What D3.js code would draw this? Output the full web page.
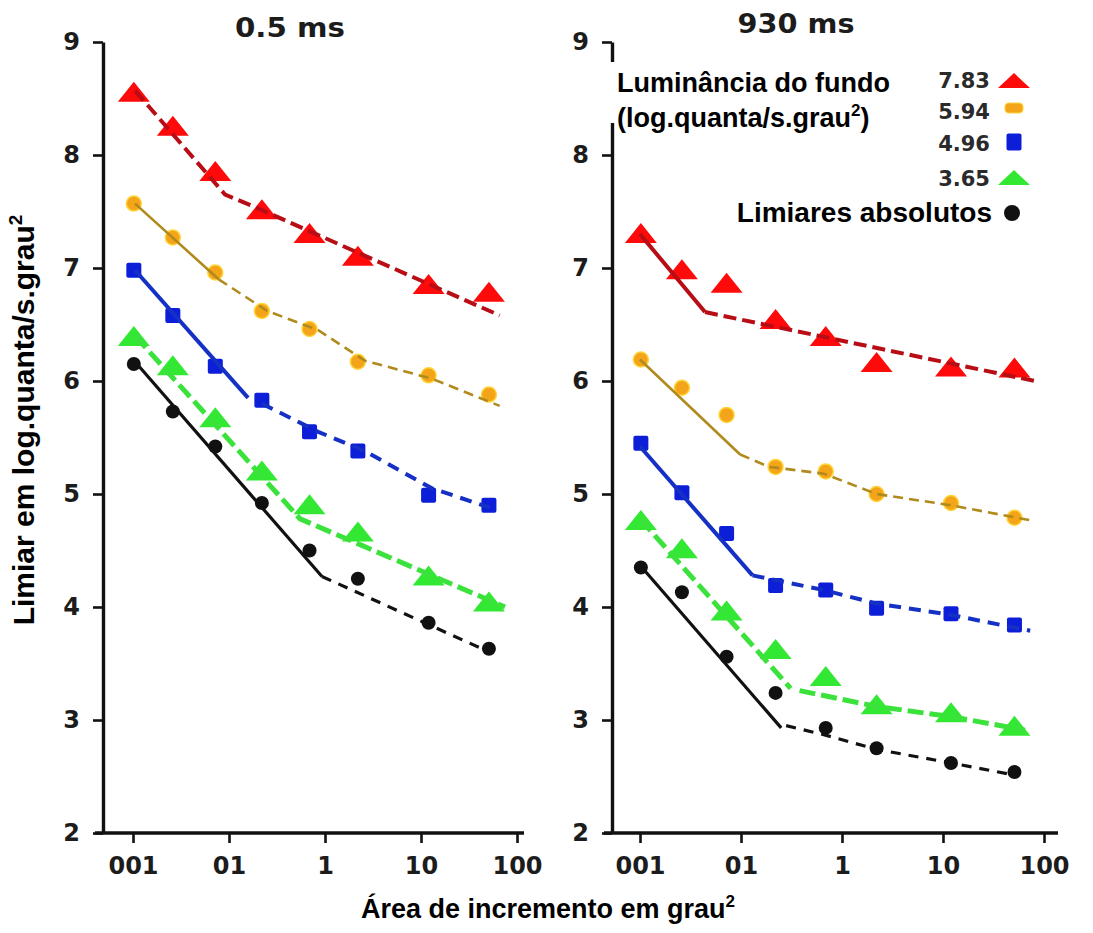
<!DOCTYPE html>
<html>
<head>
<meta charset="utf-8">
<script src="https://cdn.jsdelivr.net/npm/d3@7"></script>
<style>
  html, body { margin: 0; padding: 0; background: #fff; }
  svg { display: block; }
</style>
</head>
<body>
<svg id="chart" width="1093" height="933"></svg>
<script>
// ---------------- DATA ----------------
const areas = [0.0102, 0.026, 0.072, 0.22, 0.69, 2.2, 12, 51];      // grau^2
const xTickValues = [0.01, 0.1, 1, 10, 100];
const xTickLabels = ["001", "01", "1", "10", "100"];
const yTickValues = [2, 3, 4, 5, 6, 7, 8, 9];
const panelTitles = ["0.5 ms", "930 ms"];
const seriesKeys = ["7.83", "5.94", "4.96", "3.65", "abs"];
const legendLabels = ["7.83", "5.94", "4.96", "3.65"];

// 0.5 ms panel
const left783 = [8.55, 8.25, 7.85, 7.51, 7.30, 7.10, 6.85, 6.78];
const left594 = [7.57, 7.27, 6.96, 6.62, 6.46, 6.17, 6.05, 5.88];
const left496 = [6.98, 6.58, 6.13, 5.83, 5.55, 5.38, 4.99, 4.90];
const left365 = [6.39, 6.13, 5.67, 5.20, 4.90, 4.66, 4.27, 4.04];
const leftAbs = [6.15, 5.73, 5.42, 4.92, 4.50, 4.25, 3.86, 3.63];

// 930 ms panel
const right783 = [7.30, 6.98, 6.86, 6.54, 6.39, 6.16, 6.12, 6.11];
const right594 = [6.19, 5.94, 5.70, 5.24, 5.20, 5.00, 4.92, 4.79];
const right496 = [5.45, 5.01, 4.65, 4.19, 4.15, 3.99, 3.94, 3.84];
const right365 = [4.76, 4.51, 3.96, 3.62, 3.38, 3.13, 3.06, 2.94];
const rightAbs = [4.35, 4.13, 3.56, 3.24, 2.93, 2.75, 2.62, 2.54];

// fitted curves: [area, threshold]
const fitL783 = [[0.0105, 8.57], [0.091, 7.65], [0.21, 7.52], [66, 6.58]];
const fitL594a = [[0.0105, 7.57], [0.078, 6.90]];
const fitL594b = [[0.078, 6.90], [0.25, 6.62], [0.85, 6.45], [2.6, 6.18], [13, 6.02], [66, 5.78]];
const fitL496a = [[0.0105, 6.98], [0.158, 5.85]];
const fitL496b = [[0.22, 5.80], [0.85, 5.55], [2.6, 5.38], [13, 5.05], [52, 4.88]];
const fitL365 = [[0.0105, 6.40], [0.55, 4.78], [75, 4.00]];
const fitLAbsA = [[0.0105, 6.17], [0.93, 4.27]];
const fitLAbsB = [[0.93, 4.27], [52, 3.60]];

const fitR783a = [[0.01, 7.30], [0.044, 6.61]];
const fitR783b = [[0.044, 6.61], [81, 6.00]];
const fitR594a = [[0.01, 6.19], [0.098, 5.35]];
const fitR594b = [[0.098, 5.35], [0.19, 5.24], [0.66, 5.18], [2.2, 5.00], [12, 4.90], [81, 4.76]];
const fitR496a = [[0.01, 5.42], [0.13, 4.28]];
const fitR496b = [[0.13, 4.28], [0.66, 4.15], [2.2, 4.03], [12, 3.93], [73, 3.79]];
const fitR365a = [[0.01, 4.78], [0.31, 3.28]];
const fitR365b = [[0.38, 3.26], [2.2, 3.12], [12, 3.03], [65, 2.91]];
const fitRAbsA = [[0.01, 4.37], [0.25, 2.93]];
const fitRAbsB = [[0.28, 2.95], [0.66, 2.87], [2.2, 2.74], [12, 2.62], [46, 2.52]];

// ---------------- STYLE ----------------
const markerFill = { "7.83": "#ff0a0a", "5.94": "#f4a418", "4.96": "#0c1ed8", "3.65": "#33e833", "abs": "#111111" };
const markerStroke = { "7.83": "#ff0a0a", "5.94": "#ffd43a", "4.96": "#0c1ed8", "3.65": "#33e833", "abs": "#111111" };
const lineColor = { "7.83": "#b80d14", "5.94": "#b08a1c", "4.96": "#1530c4", "3.65": "#3ce23c", "abs": "#111111" };
const lineWidth = { "7.83": 4, "5.94": 2.6, "4.96": 4, "3.65": 5, "abs": 3.2 };
const dashPattern = { "7.83": "13,6", "5.94": "10,6", "4.96": "12,8", "3.65": "16,6", "abs": "10,8" };

const svg = d3.select("#chart");
const y = d3.scaleLinear().domain([2, 9]).range([833, 42]);
const panels = [
  {
    x: d3.scaleLog().domain([0.01, 100]).range([133, 517]),
    axisX: 103, xLineFrom: 95, xLineTo: 524, title: panelTitles[0], titleX: 290, titleY: 37, titleLen: 110,
    series: { "7.83": left783, "5.94": left594, "4.96": left496, "3.65": left365, "abs": leftAbs },
    fits: [
      ["7.83", fitL783, true], ["5.94", fitL594a, false], ["5.94", fitL594b, true],
      ["4.96", fitL496a, false], ["4.96", fitL496b, true], ["3.65", fitL365, true],
      ["abs", fitLAbsA, false], ["abs", fitLAbsB, true]
    ]
  },
  {
    x: d3.scaleLog().domain([0.01, 100]).range([640, 1044]),
    axisX: 612, xLineFrom: 604, xLineTo: 1058, title: panelTitles[1], titleX: 796, titleY: 33, titleLen: 117,
    series: { "7.83": right783, "5.94": right594, "4.96": right496, "3.65": right365, "abs": rightAbs },
    fits: [
      ["7.83", fitR783a, false], ["7.83", fitR783b, true], ["5.94", fitR594a, false], ["5.94", fitR594b, true],
      ["4.96", fitR496a, false], ["4.96", fitR496b, true], ["3.65", fitR365a, true], ["3.65", fitR365b, true],
      ["abs", fitRAbsA, false], ["abs", fitRAbsB, true]
    ]
  }
];

function drawMarker(g, key, cx, cy, legend) {
  const f = markerFill[key], s = markerStroke[key];
  if (key === "7.83" || key === "3.65") {
    const h = legend ? [8, 7, 16] : [11, 9, 16];
    g.append("path").attr("d", `M0,${-h[0]} L${h[2]},${h[1]} L${-h[2]},${h[1]} Z`)
      .attr("transform", `translate(${cx},${cy})`).attr("fill", f);
  } else if (key === "5.94") {
    if (legend) {
      g.append("rect").attr("x", cx - 9).attr("y", cy - 5).attr("width", 18).attr("height", 10)
        .attr("rx", 4).attr("fill", f).attr("stroke", s).attr("stroke-width", 1.2);
    } else {
      g.append("circle").attr("cx", cx).attr("cy", cy).attr("r", 7.5)
        .attr("fill", f).attr("stroke", s).attr("stroke-width", 1.5);
    }
  } else if (key === "4.96") {
    const w = 15, hh = legend ? 17 : 15;
    g.append("rect").attr("x", cx - w / 2).attr("y", cy - hh / 2).attr("width", w).attr("height", hh)
      .attr("rx", 2).attr("fill", f);
  } else {
    g.append("circle").attr("cx", cx).attr("cy", cy).attr("r", legend ? 8 : 7).attr("fill", f);
  }
}

const line = (x) => d3.line().x(d => x(d[0])).y(d => y(d[1]));

panels.forEach((p) => {
  const g = svg.append("g");

  const ya = g.append("g").attr("transform", `translate(${p.axisX},0)`)
    .call(d3.axisLeft(y).tickValues(yTickValues).tickFormat(d3.format("d")).tickSize(10).tickSizeOuter(0).tickPadding(13));
  ya.select(".domain").attr("stroke", "#111").attr("stroke-width", 3.4);
  ya.selectAll(".tick line").attr("stroke", "#111").attr("stroke-width", 2.6);
  ya.selectAll(".tick text").attr("font-family", "DejaVu Sans").attr("font-weight", "bold")
    .attr("font-size", 24).attr("fill", "#1c1c1c");

  const xa = g.append("g").attr("transform", "translate(0,833)")
    .call(d3.axisBottom(p.x).tickValues(xTickValues).tickFormat((d, i) => xTickLabels[i]).tickSize(10).tickSizeOuter(0).tickPadding(14));
  xa.select(".domain").remove();
  xa.selectAll(".tick line").attr("stroke", "#111").attr("stroke-width", 2.6);
  xa.selectAll(".tick text").attr("font-family", "DejaVu Sans").attr("font-weight", "bold")
    .attr("font-size", 24).attr("fill", "#1c1c1c");
  g.append("line").attr("x1", p.xLineFrom).attr("x2", p.xLineTo).attr("y1", 833).attr("y2", 833)
    .attr("stroke", "#111").attr("stroke-width", 3.4);

  g.append("text").attr("x", p.titleX).attr("y", p.titleY).attr("text-anchor", "middle")
    .attr("font-family", "DejaVu Sans").attr("font-weight", "bold").attr("font-size", 26)
    .attr("fill", "#1c1c1c").attr("textLength", p.titleLen).attr("lengthAdjust", "spacingAndGlyphs")
    .text(p.title);

  const mg = g.append("g");
  seriesKeys.forEach(k => {
    p.series[k].forEach((v, i) => drawMarker(mg, k, p.x(areas[i]), y(v), false));
  });

  p.fits.forEach(([k, pts, dashed]) => {
    g.append("path").attr("d", line(p.x)(pts)).attr("fill", "none")
      .attr("stroke", lineColor[k]).attr("stroke-width", lineWidth[k])
      .attr("stroke-dasharray", dashed ? dashPattern[k] : null);
  });
});

// white gap in right y axis behind the legend title
svg.append("rect").attr("x", 606).attr("y", 62).attr("width", 12).attr("height", 61).attr("fill", "#fff");

// text with a raised "2"
function supText(sel, before, after, size) {
  sel.append("tspan").text(before);
  sel.append("tspan").attr("font-size", Math.round(size * 0.62)).attr("dy", -Math.round(size * 0.4)).text("2");
  if (after) sel.append("tspan").attr("dy", Math.round(size * 0.4)).text(after);
}

// legend
const lg = svg.append("g");
const sans = "Liberation Sans, Arial, Helvetica, sans-serif";
lg.append("text").attr("x", 617).attr("y", 92).attr("font-family", sans).attr("font-weight", "bold")
  .attr("font-size", 27).attr("fill", "#000").text("Luminância do fundo");
supText(lg.append("text").attr("x", 617).attr("y", 127).attr("font-family", sans).attr("font-weight", "bold")
  .attr("font-size", 27).attr("fill", "#000"), "(log.quanta/s.grau", ")", 27);
const legendBase = [88, 119, 151, 186];
const legendMarkY = [81, 108, 142, 178];
legendLabels.forEach((t, i) => {
  lg.append("text").attr("x", 990).attr("y", legendBase[i]).attr("text-anchor", "end")
    .attr("font-family", "DejaVu Sans").attr("font-weight", "bold").attr("font-size", 21)
    .attr("fill", "#2a2a2a").text(t);
  drawMarker(lg, seriesKeys[i], 1014, legendMarkY[i], true);
});
lg.append("text").attr("x", 992).attr("y", 222).attr("text-anchor", "end").attr("font-family", sans)
  .attr("font-weight", "bold").attr("font-size", 28).attr("fill", "#000").text("Limiares absolutos");
drawMarker(lg, "abs", 1012, 213, true);

// axis titles
supText(svg.append("text").attr("transform", "translate(34,420) rotate(-90)").attr("text-anchor", "middle")
  .attr("font-family", sans).attr("font-weight", "bold").attr("font-size", 30).attr("fill", "#000"),
  "Limiar em log.quanta/s.grau", null, 30);
supText(svg.append("text").attr("x", 548).attr("y", 918).attr("text-anchor", "middle")
  .attr("font-family", sans).attr("font-weight", "bold").attr("font-size", 27).attr("fill", "#000"),
  "Área de incremento em grau", null, 27);
</script>
</body>
</html>
